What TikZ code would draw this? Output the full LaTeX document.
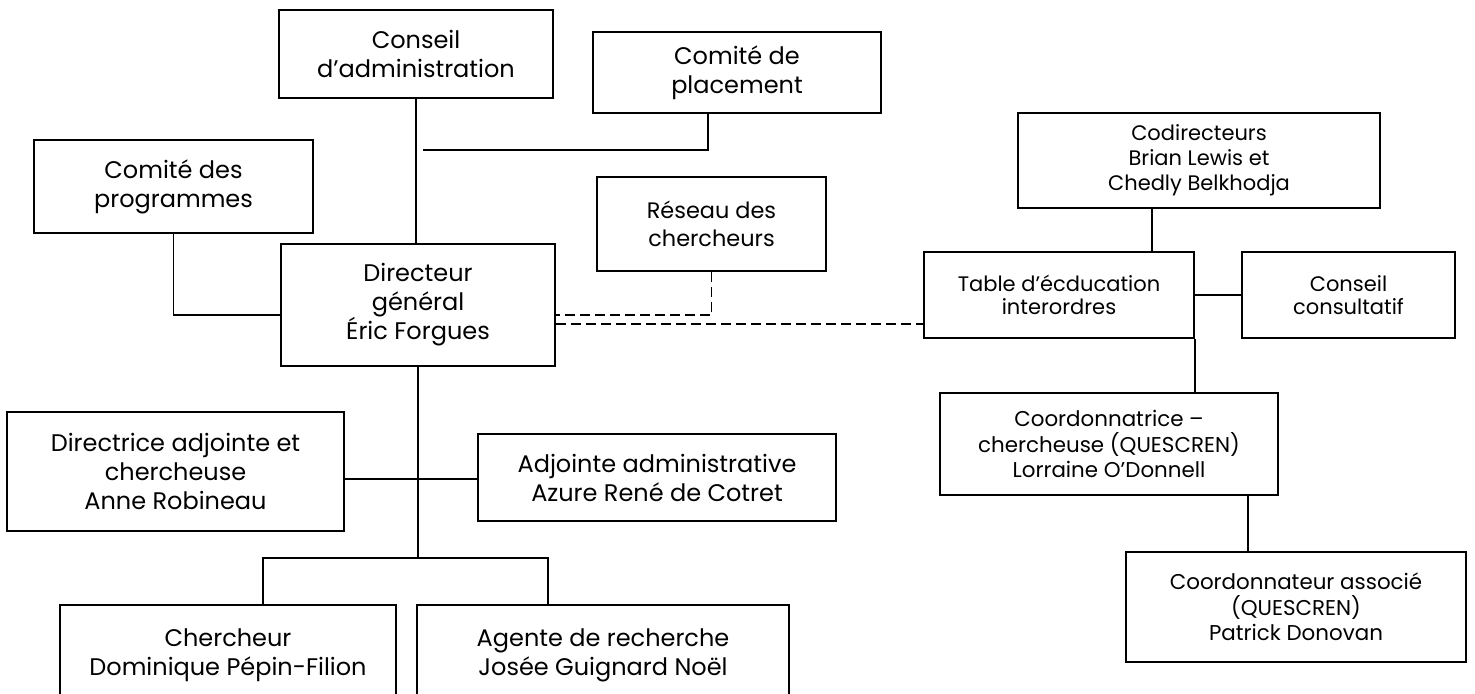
\documentclass[tikz,border=0pt]{standalone}
\usepackage{fontspec}
\setmainfont{Poppins}
\usetikzlibrary{calc}
\tikzset{
  bx/.style n args={2}{draw=black, line width=0.85pt, fill=white, align=center,
    minimum width=#1*0.5pt, minimum height=#2*0.5pt, inner sep=0pt,
    font=\fontsize{12}{14.5}\selectfont},
  sm/.style={font=\fontsize{10.7}{12.8}\selectfont},
  smc/.style={font=\fontsize{10.5}{12.5}\selectfont},
  smt/.style={font=\fontsize{10.5}{11.7}\selectfont},
  md/.style={font=\fontsize{11.2}{14}\selectfont},
  link/.style={draw=black, line width=0.85pt},
  dlink/.style={draw=black, line width=0.85pt, dash pattern=on 5pt off 2.5pt}
}
\begin{document}
\begin{tikzpicture}[x=0.5pt, y=-0.5pt]
\useasboundingbox (0,0) rectangle (1475,693);
% nodes
\node[bx={274}{88}] (ca) at (416,54) {Conseil\\d’administration};
\node[bx={288}{81}] (cp) at (737,72.5) {Comité de\\placement};
\node[bx={279}{93}] (prog) at (173.5,186.5) {Comité des\\programmes};
\node[bx={274}{122}] (dg) at (418,305) {Directeur\\général\\Éric Forgues};
\node[bx={229}{94}, md] (res) at (711.5,224) {Réseau des\\chercheurs};
\node[bx={362}{95}, smc] (codir) at (1199,160.5) {Codirecteurs\\Brian Lewis et\\Chedly Belkhodja};
\node[bx={270}{86}, smt] (table) at (1059,295) {Table d’écducation\\interordres};
\node[bx={213}{86}, smt] (consult) at (1348.5,295) {Conseil\\consultatif};
\node[bx={338}{102}, sm] (coord) at (1109,444) {Coordonnatrice –\\chercheuse (QUESCREN)\\Lorraine O’Donnell};
\node[bx={340}{110}, sm] (assoc) at (1296,607) {Coordonnateur associé\\(QUESCREN)\\Patrick Donovan};
\node[bx={337}{119}] (dir) at (175.5,471.5) {Directrice adjointe et\\chercheuse\\Anne Robineau};
\node[bx={358}{87}] (adj) at (657,477.5) {Adjointe administrative\\Azure René de Cotret};
\node[bx={336}{100}] (cher) at (228,655) {Chercheur\\Dominique Pépin-Filion};
\node[bx={372}{100}] (agent) at (603,655) {Agente de recherche\\Josée Guignard Noël};
% helper coordinates
\coordinate (cpx) at (708,0);
\coordinate (cpend) at (423,150);
\coordinate (y315) at (0,315);
\coordinate (y324) at (0,324);
\coordinate (y479) at (0,479);
\coordinate (y558) at (0,558);
\coordinate (x1152) at (1152,0);
\coordinate (x1248) at (1248,0);
\coordinate (xc) at (263,0);
\coordinate (xa) at (548,0);
% connectors
\draw[link] (ca.south) -- (ca.south |- dg.north);
\draw[link] (cp.south -| cpx) -- (cpx |- cpend) -- (cpend);
\draw[link] (prog.south) -- (prog.south |- y315) -- (dg.west |- y315);
\draw[dlink] (res.south) -- (res.south |- y315) -- (dg.east |- y315);
\draw[dlink] (dg.east |- y324) -- (table.west |- y324);
\draw[link] (codir.south -| x1152) -- (table.north -| x1152);
\draw[link] (table.east) -- (consult.west);
\draw[link] (table.south east) -- (coord.north -| table.south east);
\draw[link] (coord.south -| x1248) -- (assoc.north -| x1248);
\draw[link] (dg.south) -- (dg.south |- y558);
\draw[link] (dir.east |- y479) -- (adj.west |- y479);
\draw[link] (cher.north -| xc) -- (xc |- y558) -- (xa |- y558) -- (agent.north -| xa);
\end{tikzpicture}
\end{document}
